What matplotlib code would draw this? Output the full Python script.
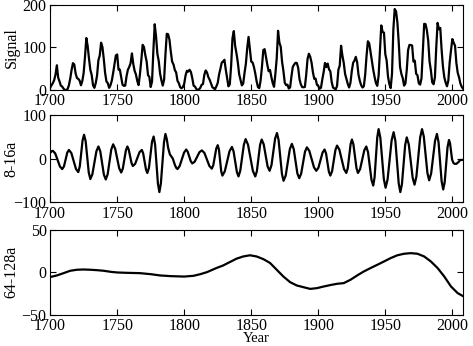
import numpy as np
import matplotlib
matplotlib.use("Agg")
from matplotlib import pyplot as plt

# yearly sunspot numbers, 1700-2008
years = np.arange(1700, 2009)
signal = [
    5, 11, 16, 23, 36, 58, 29, 20, 10, 8, 3, 0, 0, 2, 11, 27, 47, 63, 60, 39,
    28, 26, 22, 11, 21, 40, 78, 122, 103, 73, 47, 35, 11, 5, 16, 34, 70, 81, 111, 101,
    73, 40, 20, 16, 5, 11, 22, 40, 60, 80.9, 83.4, 47.7, 47.8, 30.7, 12.2, 9.6, 10.2, 32.4, 47.6, 54.0,
    62.9, 85.9, 61.2, 45.1, 36.4, 20.9, 11.4, 37.8, 69.8, 106.1, 100.8, 81.6, 66.5, 34.8, 30.6, 7.0, 19.8, 92.5, 154.4, 125.9,
    84.8, 68.1, 38.5, 22.8, 10.2, 24.1, 82.9, 132.0, 130.9, 118.1, 89.9, 66.6, 60.0, 46.9, 41.0, 21.3, 16.0, 6.4, 4.1, 6.8,
    14.5, 34.0, 45.0, 43.1, 47.5, 42.2, 28.1, 10.1, 8.1, 2.5, 0.0, 1.4, 5.0, 12.2, 13.9, 35.4, 45.8, 41.1, 30.1, 23.9,
    15.6, 6.6, 4.0, 1.8, 8.5, 16.6, 36.3, 49.6, 64.2, 67.0, 70.9, 47.8, 27.5, 8.5, 13.2, 56.9, 121.5, 138.3, 103.2, 85.7,
    64.6, 36.7, 24.2, 10.7, 15.0, 40.1, 61.5, 98.5, 124.7, 96.3, 66.6, 64.5, 54.1, 39.0, 20.6, 6.7, 4.3, 22.7, 54.8, 93.8,
    95.8, 77.2, 59.1, 44.0, 47.0, 30.5, 16.3, 7.3, 37.6, 74.0, 139.0, 111.2, 101.6, 66.2, 44.7, 17.0, 11.3, 12.4, 3.4, 6.0,
    32.3, 54.3, 59.7, 63.7, 63.5, 52.2, 25.4, 13.1, 6.8, 6.3, 7.1, 35.6, 73.0, 85.1, 78.0, 64.0, 41.8, 26.2, 26.7, 12.1,
    9.5, 2.7, 5.0, 24.4, 42.0, 63.5, 53.8, 62.0, 48.5, 43.9, 18.6, 5.7, 3.6, 1.4, 9.6, 47.4, 57.1, 103.9, 80.6, 63.6,
    37.6, 26.1, 14.2, 5.8, 16.7, 44.3, 63.9, 69.0, 77.8, 64.9, 35.7, 21.2, 11.1, 5.7, 8.7, 36.1, 79.7, 114.4, 109.6, 88.8,
    67.8, 47.5, 30.6, 16.3, 9.6, 33.2, 92.6, 151.6, 136.3, 134.7, 83.9, 69.4, 31.5, 13.9, 4.4, 38.0, 141.7, 190.2, 184.8, 159.0,
    112.3, 53.9, 37.6, 27.9, 10.2, 15.1, 47.0, 93.8, 105.9, 105.5, 104.5, 66.6, 68.9, 38.0, 34.5, 15.5, 12.6, 27.5, 92.5, 155.4,
    154.6, 140.4, 115.9, 66.6, 45.9, 17.9, 13.4, 29.4, 100.2, 157.6, 142.6, 145.7, 94.3, 54.6, 29.9, 17.5, 8.6, 21.5, 64.3, 93.3,
    119.6, 111.0, 104.0, 63.7, 40.4, 29.8, 15.2, 7.5, 2.9,
]

# 8-16 a component (turning points and the flanks between them)
band_years = [
    1700, 1701, 1702, 1703.8, 1707.3, 1709, 1710.3, 1712.8, 1714, 1715.8, 1719.3, 1721,
    1722.1, 1724.2, 1725.3, 1726.5, 1728.8, 1730, 1731.5, 1734.5, 1736, 1737.4, 1740.1, 1741.5,
    1742.9, 1745.6, 1747, 1748.5, 1751.5, 1753, 1754.2, 1756.5, 1757.6, 1758.6, 1760.7, 1761.7,
    1763.4, 1766.7, 1768.4, 1769.4, 1771.5, 1772.5, 1773.7, 1776, 1777.2, 1778.3, 1780.4, 1781.5,
    1782.6, 1784.9, 1786, 1787, 1788, 1789.3, 1791.5, 1793, 1794, 1795,
    1796.6, 1799.9, 1801.5, 1802.6, 1804.9, 1806, 1807.8, 1811.4, 1813.2, 1815.1, 1818.8, 1820.6,
    1821.7, 1823.9, 1825, 1825.9, 1827.6, 1828.5, 1830.3, 1833.8, 1835.6, 1836.8, 1839.3, 1840.5,
    1841.8, 1844.5, 1845.8, 1847.6, 1851.2, 1853, 1854.2, 1856.6, 1857.8, 1859.3, 1862.2, 1863.7,
    1865.1, 1867.8, 1869.2, 1870.4, 1872.9, 1874.1, 1875.7, 1878.8, 1880.3, 1881.7, 1884.4, 1885.8,
    1887.2, 1890.1, 1891.5, 1893.3, 1896.8, 1898.5, 1900.1, 1903.2, 1904.7, 1905.8, 1907.9, 1909,
    1910.3, 1912.8, 1914, 1915.7, 1919.2, 1920.9, 1922, 1924.1, 1925.1, 1926.2, 1928.5, 1929.6,
    1931.2, 1934.3, 1935.8, 1937.1, 1939.7, 1941, 1942, 1944, 1945, 1946.3, 1948.9, 1950.2,
    1951.7, 1954.7, 1956.2, 1957.5, 1960, 1961.2, 1962.4, 1964.8, 1966, 1967.5, 1970.4, 1971.8,
    1973.2, 1976, 1977.4, 1978.7, 1981.4, 1982.7, 1984.2, 1987.1, 1988.5, 1989.7, 1992, 1993.2,
    1994.3, 1996.4, 1997.5, 1998.3, 1999.8, 2000.8, 2001.8, 2003, 2004.5, 2006, 2008,
]
band = [
    13, 17, 18, 12, -18, -24, -18, 14, 20, 13, -24, -31,
    -18, 42, 55, 40, -32, -47, -36, 17, 28, 17, -37, -48,
    -36, 21, 33, 23, -22, -32, -23, 19, 28, 21, -10, -17,
    -12, 15, 20, 12, -25, -33, -21, 39, 51, 32, -58, -77,
    -57, 37, 57, 45, 25, 10, 0, -14, -21, -24,
    -17, 14, 21, 16, -6, -11, -7, 15, 19, 13, -17, -23,
    -15, 23, 31, 21, -29, -39, -29, 17, 27, 17, -31, -41,
    -28, 32, 45, 32, -28, -41, -29, 32, 44, 33, -18, -28,
    -15, 46, 59, 43, -35, -51, -39, 22, 34, 22, -34, -45,
    -35, 16, 26, 18, -20, -28, -21, 14, 21, 12, -30, -39,
    -29, 20, 30, 21, -24, -33, -22, 33, 44, 33, -22, -33,
    -24, 19, 28, 15, -49, -62, -43, 49, 68, 48, -47, -67,
    -48, 42, 61, 41, -57, -77, -59, 31, 49, 33, -44, -60,
    -41, 49, 68, 51, -33, -50, -34, 41, 57, 38, -52, -71,
    -54, 26, 43, 35, -2, -10, -12, -12, -8, -3, -3,
]

# 64-128 a component
trend_years = [
    1700, 1705, 1710, 1715, 1720, 1725, 1730, 1735, 1740, 1745, 1750, 1757, 1767, 1775,
    1782, 1790, 1800, 1807, 1812, 1817, 1824, 1829, 1834, 1839, 1844, 1849, 1854, 1859,
    1864, 1869, 1874, 1879, 1884, 1889, 1894, 1899, 1904, 1909, 1914, 1919, 1924, 1929,
    1934, 1939, 1944, 1949, 1954, 1959, 1964, 1969, 1974, 1979, 1984, 1989, 1994, 1999,
    2004, 2008,
]
trend = [
    -5.6, -3.7, -1, 1.8, 3, 3.3, 3, 2.5, 1.8, 0.6, -0.2, -0.6, -1, -2.2,
    -3.7, -4.5, -5, -4.1, -2.2, 0.2, 5, 8, 12, 16, 18.6, 20, 18.6, 15.5,
    11, 3, -5, -11.6, -15.5, -17.5, -19.5, -18.6, -16.7, -15, -13.5, -12.7, -8.8, -3.7,
    1, 5, 8.8, 12.7, 16.7, 20, 21.8, 22.5, 21.8, 18.6, 12.7, 5, -5, -16.7,
    -24.5, -28,
]

plt.rcParams["font.family"] = "Liberation Serif"

fig = plt.figure(figsize=(4.73, 3.46), dpi=100)
left, width = 0.106, 0.873
panels = [
    (0.740, 0.246, years, signal, (0, 200), [0, 100, 200], "Signal"),
    (0.416, 0.251, band_years, band, (-100, 100), [-100, 0, 100], "8-16a"),
    (0.090, 0.246, trend_years, trend, (-50, 50), [-50, 0, 50], "64-128a"),
]
for bottom, height, x, y, ylim, yticks, label in panels:
    ax = fig.add_axes([left, bottom, width, height])
    ax.plot(x, y, color="black", lw=1.6, solid_joinstyle="round")
    ax.set_xlim(1700, 2008)
    ax.set_ylim(*ylim)
    ax.set_xticks([1700, 1750, 1800, 1850, 1900, 1950, 2000])
    ax.set_yticks(yticks)
    ax.tick_params(direction="in", top=True, right=True, length=4, width=0.8, pad=2.5, labelsize=11.5)
    for s in ax.spines.values():
        s.set_linewidth(0.8)
    ax.set_ylabel(label, fontsize=11.5)
    ax.yaxis.set_label_coords(-0.074, 0.5)

ax.set_xlabel("Year", fontsize=10.5, labelpad=-1.5)

plt.savefig("out.png", dpi=100)
